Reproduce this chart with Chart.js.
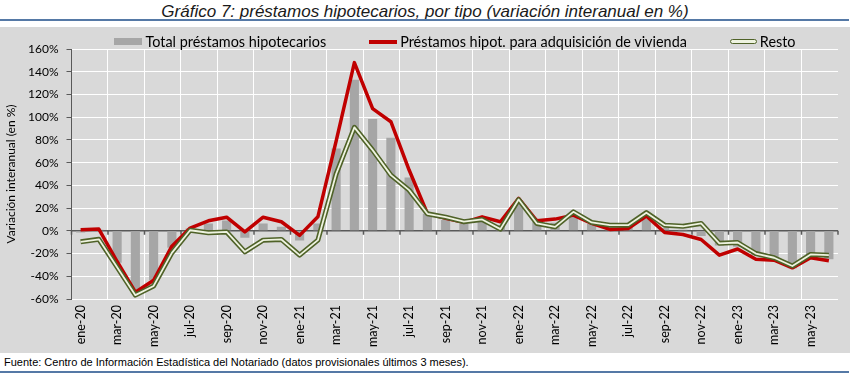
<!DOCTYPE html>
<html>
<head>
<meta charset="utf-8">
<title>Gráfico 7</title>
<script src="https://cdn.jsdelivr.net/npm/chart.js@4.4.0/dist/chart.umd.min.js"></script>
<style>
	body { margin: 0; width: 850px; height: 374px; background: #fff; position: relative; overflow: hidden; font-family: Lato, sans-serif; }
	#titulo { position: absolute; top: 2px; left: 0; width: 850px; text-align: center; font: italic 17px "Liberation Sans Narrow", "Arial Narrow", sans-serif; color: #1a1a1a; }
	.regla { position: absolute; left: 0; width: 849px; height: 2px; background: #5579a6; }
	#caja { position: absolute; left: 0; top: 27px; width: 850px; height: 326px; background: #d9d9d9; }
	#leyenda { position: absolute; top: 33px; left: 71px; width: 768px; display: flex; justify-content: center; gap: 43px; font-size: 14.4px; color: #000; white-space: nowrap; }
	#leyenda .item { display: flex; align-items: center; gap: 3px; }
	#leyenda .icono { display: inline-block; width: 28px; }
	#fuente { position: absolute; left: 4px; top: 356px; font: 11px "Liberation Sans Narrow", "Arial Narrow", sans-serif; color: #000; }
</style>
</head>
<body>
	<div id="titulo">Gráfico 7: préstamos hipotecarios, por tipo (variación interanual en %)</div>
	<div class="regla" style="top:19px"></div>

	<div id="caja">
		<canvas id="grafico" width="850" height="326"></canvas>
	</div>
	<div id="leyenda"></div>

	<div id="fuente">Fuente: Centro de Información Estadística del Notariado (datos provisionales últimos 3 meses).</div>
	<div class="regla" style="top:371px"></div>

<script>
// meses ene-20 .. jun-23
var meses = [
	"ene-20", "feb-20", "mar-20", "abr-20", "may-20", "jun-20", "jul-20", "ago-20", "sep-20", "oct-20", "nov-20", "dic-20",
	"ene-21", "feb-21", "mar-21", "abr-21", "may-21", "jun-21", "jul-21", "ago-21", "sep-21", "oct-21", "nov-21", "dic-21",
	"ene-22", "feb-22", "mar-22", "abr-22", "may-22", "jun-22", "jul-22", "ago-22", "sep-22", "oct-22", "nov-22", "dic-22",
	"ene-23", "feb-23", "mar-23", "abr-23", "may-23", "jun-23"
];

// variacion interanual en %
var totalPrestamos = [
	-1.5, 1, -28, -55, -43.5, -15, 2, 6.5, 9, -6, 6.5, 3.5,
	-8.5, 6.5, 72.5, 133, 98.5, 82, 47, 15, 9.5, 6, 9.5, 5,
	25.5, 8, 7, 12.5, 6, 3, 3.5, 11, 2.5, 1, -4.5, -13,
	-14, -21.5, -26, -33, -23.5, -25
];
var adquisicionVivienda = [
	1, 1.5, -27, -54, -43.5, -13.5, 2.4, 8.8, 12, -1, 12, 8,
	-4, 12.3, 79, 148, 107.5, 96, 53.5, 15.3, 11, 7.4, 12.3, 8,
	28.5, 8.8, 10.3, 13.8, 6.5, 1.2, 2, 13, -1.5, -3.2, -7.6, -21.4,
	-16, -25, -25.8, -32.6, -23.7, -26.4
];
var resto = [
	-9.7, -7.5, -32, -56.6, -48.5, -19.4, 0.5, -1.7, -1, -18.5, -8.2, -7.6,
	-21.4, -8.2, 50, 91, 71, 49, 35.8, 15, 12, 8, 10, 1.5,
	27.5, 6.5, 3.5, 16.7, 7.4, 5, 5, 16, 5, 4, 6.5, -11,
	-10.3, -20, -23.7, -31, -20.8, -21.4
];

// eje Y
var ejeMin = -60, ejeMax = 160, ejePaso = 20;

var series = {
	total: "Total préstamos hipotecarios",
	vivienda: "Préstamos hipot. para adquisición de vivienda",
	resto: "Resto"
};

// linea del 0% y marcas del eje de categorias
var ejeCero = {
	id: 'ejeCero',
	beforeDatasetsDraw: function (chart) {
		var ctx = chart.ctx, area = chart.chartArea;
		var x = chart.scales.x, y = chart.scales.y;
		var y0 = y.getPixelForValue(0);
		var paso = (x.getPixelForValue(1) - x.getPixelForValue(0)) / 2;
		ctx.save();
		ctx.strokeStyle = '#595959';
		ctx.lineWidth = 1.5;
		ctx.beginPath();
		ctx.moveTo(area.left, y0);
		ctx.lineTo(area.right, y0);
		for (var i = 0; i <= meses.length; i += 2) {
			var px = i < meses.length ? x.getPixelForValue(i) - paso : x.getPixelForValue(i - 1) + paso;
			ctx.moveTo(px, y0);
			ctx.lineTo(px, y0 + 4);
		}
		ctx.stroke();
		ctx.restore();
	}
};

var fuente = { family: 'Lato', size: 12 };

var canvas = document.getElementById('grafico').getContext('2d');
var grafico = new Chart(canvas, {
	type: 'bar',
	data: {
		labels: meses,
		datasets: [{
			type: 'bar',
			label: series.total,
			data: totalPrestamos,
			backgroundColor: '#a6a6a6',
			barPercentage: 0.5,
			categoryPercentage: 1,
			order: 4
		}, {
			type: 'line',
			label: series.vivienda,
			data: adquisicionVivienda,
			borderColor: '#c00000',
			borderWidth: 3.5,
			pointRadius: 0,
			tension: 0,
			borderJoinStyle: 'round',
			order: 3
		}, {
			type: 'line',
			label: series.resto,
			data: resto,
			borderColor: '#4f6228',
			borderWidth: 5,
			pointRadius: 0,
			tension: 0,
			borderJoinStyle: 'round',
			order: 2
		}, {
			// relleno claro de la doble linea
			type: 'line',
			label: 'interior',
			data: resto,
			borderColor: '#eef3e0',
			borderWidth: 1.8,
			pointRadius: 0,
			tension: 0,
			borderJoinStyle: 'round',
			order: 1
		}]
	},
	options: {
		responsive: false,
		animation: false,
		devicePixelRatio: 1,
		layout: { padding: { top: 22, right: 11, left: 0, bottom: 0 } },
		plugins: {
			legend: { display: false },
			tooltip: { enabled: false }
		},
		scales: {
			x: {
				offset: true,
				grid: {
					offset: true,
					drawTicks: false,
					lineWidth: 1,
					color: function (c) { return c.index % 2 === 0 ? '#ffffff' : 'rgba(0,0,0,0)'; }
				},
				border: { display: false },
				ticks: {
					autoSkip: false,
					minRotation: 90,
					maxRotation: 90,
					padding: 6,
					color: '#000',
					font: { family: 'Lato', size: 12.5 },
					callback: function (v, i) { return i % 2 === 0 ? meses[i] : ''; }
				},
				afterFit: function (s) { s.height = 54; }
			},
			y: {
				min: ejeMin,
				max: ejeMax,
				ticks: {
					stepSize: ejePaso,
					padding: 8,
					color: '#000',
					font: fuente,
					callback: function (v) { return v + '%'; }
				},
				grid: { color: '#ffffff', lineWidth: 1, tickColor: '#595959', tickLength: 5 },
				border: { color: '#595959', width: 1 },
				title: {
					display: true,
					text: 'Variación interanual (en %)',
					color: '#000',
					font: fuente,
					padding: { top: 4, bottom: 0 }
				},
				afterFit: function (s) { s.width = 71.5; }
			}
		}
	},
	plugins: [ejeCero]
});

// leyenda en html a partir de las series
var iconos = [
	'height:7px;background:#a6a6a6',
	'height:4px;background:#c00000',
	'height:3px;background:#eef3e0;border:1.5px solid #4f6228;border-radius:3px;width:25px'
];
var leyenda = document.getElementById('leyenda');
grafico.data.datasets.slice(0, 3).forEach(function (ds, i) {
	var item = document.createElement('div');
	item.className = 'item';
	item.innerHTML = '<span class="icono" style="' + iconos[i] + '"></span><span>' + ds.label + '</span>';
	leyenda.appendChild(item);
});
</script>
</body>
</html>
